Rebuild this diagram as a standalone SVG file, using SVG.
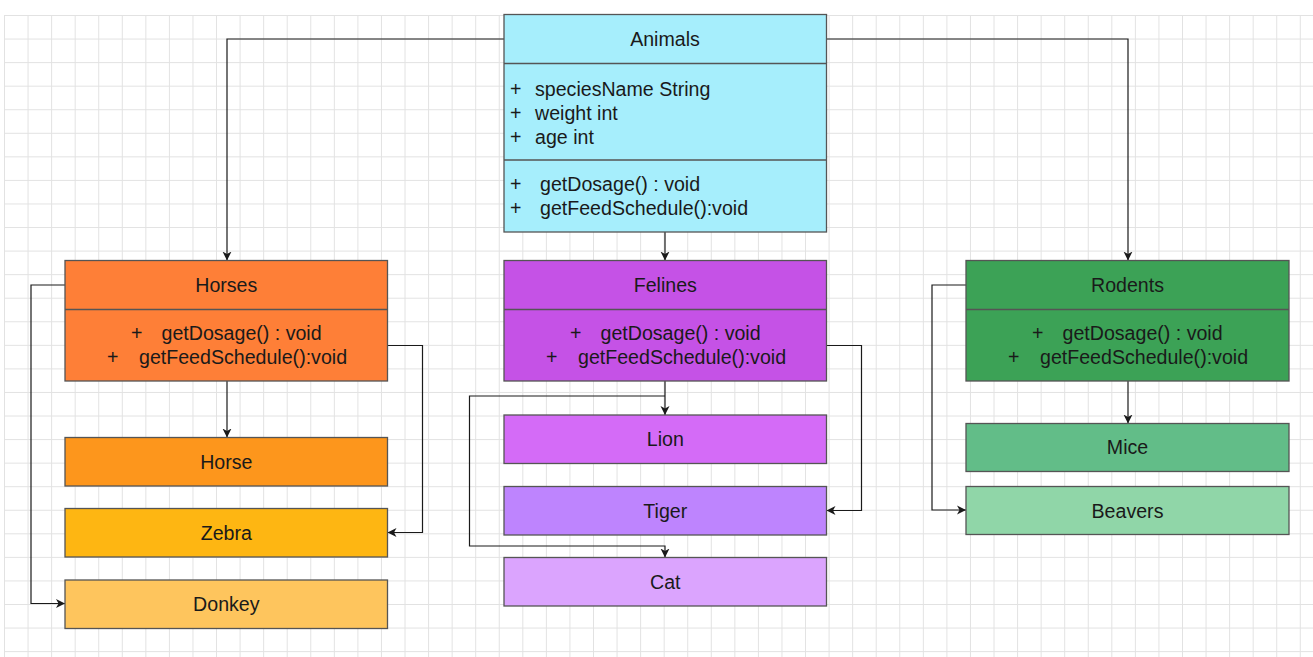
<svg xmlns="http://www.w3.org/2000/svg" width="1313" height="657" viewBox="0 0 1313 657">
<defs>
<pattern id="grid" patternUnits="userSpaceOnUse" x="4" y="15" width="23.56" height="23.56">
<rect x="0" y="0" width="23.56" height="1" fill="#e2e2e2"/>
<rect x="0" y="0" width="1" height="23.56" fill="#e2e2e2"/>
</pattern>
<marker id="arr" markerUnits="userSpaceOnUse" markerWidth="10" markerHeight="10" refX="9" refY="4.5" orient="auto" viewBox="0 0 10 9">
<path d="M0,0 L9,4.5 L0,9 L2.5,4.5 z" fill="#1a1a1a"/>
</marker>
<style>
.box{stroke:#555;stroke-width:1.3}
.div{stroke:#555;stroke-width:1.3;fill:none}
.t{font-family:"Liberation Sans",Arial,sans-serif;font-size:19.6px;fill:#1a1a1a}
.c{text-anchor:middle}
.con{fill:none;stroke:#1a1a1a;stroke-width:1.2;marker-end:url(#arr)}
.ln{fill:none;stroke:#1a1a1a;stroke-width:1.2}
</style>
</defs>
<rect x="0" y="0" width="1313" height="657" fill="#ffffff"/>
<rect x="4" y="15" width="1309" height="642" fill="url(#grid)"/>

<g id="connectors">
<path class="con" d="M504,39 H227 V260.5"/>
<path class="con" d="M826.5,39 H1128 V260.5"/>
<path class="con" d="M665,232 V260.5"/>
<path class="con" d="M227,381 V437.5"/>
<path class="con" d="M387.5,345.5 H422.5 V532.5 H387.5"/>
<path class="con" d="M65,285 H31 V603.5 H65"/>
<path class="con" d="M665,381 V415"/>
<path class="con" d="M665,396 H469.5 V546 H665 V557.5"/>
<path class="con" d="M826.5,345.5 H861.5 V510.5 H826.5"/>
<path class="con" d="M1128,381 V423.5"/>
<path class="con" d="M966,285 H932 V510 H966"/>
</g>

<g id="animals">
<rect class="box" x="504" y="14.5" width="322.5" height="217.5" fill="#a6eefc"/>
<line class="div" x1="504" y1="63.5" x2="826.5" y2="63.5"/>
<line class="div" x1="504" y1="160" x2="826.5" y2="160"/>
<text class="t c" x="665" y="46">Animals</text>
<text class="t" y="95.5"><tspan x="510">+</tspan><tspan x="535">speciesName String</tspan></text>
<text class="t" y="119.5"><tspan x="510">+</tspan><tspan x="535">weight int</tspan></text>
<text class="t" y="143.5"><tspan x="510">+</tspan><tspan x="535">age int</tspan></text>
<text class="t" y="191"><tspan x="510">+</tspan><tspan x="540">getDosage() : void</tspan></text>
<text class="t" y="215"><tspan x="510">+</tspan><tspan x="540">getFeedSchedule():void</tspan></text>
</g>

<g id="horses">
<rect class="box" x="65" y="260.5" width="322.5" height="120.5" fill="#fe7f37"/>
<line class="div" x1="65" y1="309.5" x2="387.5" y2="309.5"/>
<text class="t c" x="226.3" y="292">Horses</text>
<text class="t" y="340"><tspan x="131">+</tspan><tspan x="161.5">getDosage() : void</tspan></text>
<text class="t" y="363.5"><tspan x="107">+</tspan><tspan x="139">getFeedSchedule():void</tspan></text>
</g>

<g id="felines">
<rect class="box" x="504" y="260.5" width="322.5" height="120.5" fill="#c552e6"/>
<line class="div" x1="504" y1="309.5" x2="826.5" y2="309.5"/>
<text class="t c" x="665.3" y="292">Felines</text>
<text class="t" y="340"><tspan x="570">+</tspan><tspan x="600.5">getDosage() : void</tspan></text>
<text class="t" y="363.5"><tspan x="546">+</tspan><tspan x="578">getFeedSchedule():void</tspan></text>
</g>

<g id="rodents">
<rect class="box" x="966" y="260.5" width="323" height="120.5" fill="#3ca256"/>
<line class="div" x1="966" y1="309.5" x2="1289" y2="309.5"/>
<text class="t c" x="1127.5" y="292">Rodents</text>
<text class="t" y="340"><tspan x="1032">+</tspan><tspan x="1062.5">getDosage() : void</tspan></text>
<text class="t" y="363.5"><tspan x="1008">+</tspan><tspan x="1040">getFeedSchedule():void</tspan></text>
</g>

<g id="horse">
<rect class="box" x="65" y="437.5" width="322.5" height="48.5" fill="#fd961c"/>
<text class="t c" x="226.3" y="468.5">Horse</text>
</g>
<g id="zebra">
<rect class="box" x="65" y="508.5" width="322.5" height="48.5" fill="#feb612"/>
<text class="t c" x="226.3" y="540">Zebra</text>
</g>
<g id="donkey">
<rect class="box" x="65" y="580" width="322.5" height="48.5" fill="#fec55d"/>
<text class="t c" x="226.3" y="611">Donkey</text>
</g>

<g id="lion">
<rect class="box" x="504" y="415" width="322.5" height="48.5" fill="#d46bf7"/>
<text class="t c" x="665.3" y="446">Lion</text>
</g>
<g id="tiger">
<rect class="box" x="504" y="486.5" width="322.5" height="48.5" fill="#be84fe"/>
<text class="t c" x="665.3" y="517.5">Tiger</text>
</g>
<g id="cat">
<rect class="box" x="504" y="557.5" width="322.5" height="48.5" fill="#dba4fe"/>
<text class="t c" x="665.3" y="588.5">Cat</text>
</g>

<g id="mice">
<rect class="box" x="966" y="423.5" width="323" height="48" fill="#62bd88"/>
<text class="t c" x="1127.5" y="454">Mice</text>
</g>
<g id="beavers">
<rect class="box" x="966" y="486.5" width="323" height="48" fill="#90d6a8"/>
<text class="t c" x="1127.5" y="517.5">Beavers</text>
</g>
</svg>
